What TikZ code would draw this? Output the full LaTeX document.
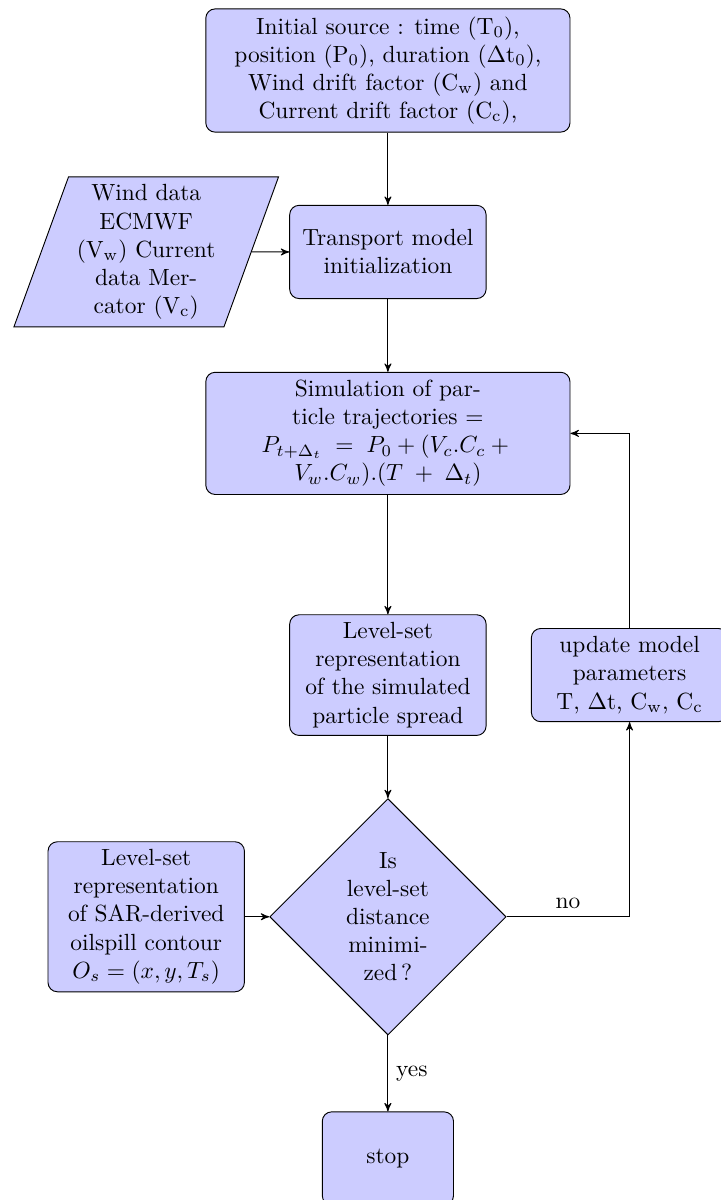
\documentclass[tikz,border=0pt]{standalone}
\usetikzlibrary{arrows,shapes.geometric}

\begin{document}
\begin{tikzpicture}[>=stealth',auto,node distance=3.63cm,
        block node/.style={rectangle,draw,fill=blue!20,rounded corners,align=flush center,
            text width=2.7cm,minimum width=2.95cm,minimum height=1.4cm},
        wide node/.style={block node,text width=5.2cm,minimum width=5.47cm},
        data node/.style={trapezium,trapezium left angle=70,trapezium right angle=110,
            draw,fill=blue!20,align=flush center,text width=2.1cm},
        decision node/.style={diamond,draw,fill=blue!20,align=flush center,text width=4.5em,
            inner sep=0pt,minimum width=3.55cm,minimum height=3.55cm}]
        \useasboundingbox (-5.826,1.059) rectangle (4.988,-16.964);
        \node[wide node] (1) {Initial source : time (T$_0$),\\ position (P$_0$), duration ($\Delta$t$_0$),\\ Wind drift factor (C$_\mathrm{w}$) and\\ Current drift factor (C$_\mathrm{c}$),};
        \node[block node] (2) [node distance=2.725cm,below of=1] {Transport model\\ initialization};
        \node[data node] (0) [left of=2] {Wind data\\ ECMWF\\ (V$_\mathrm{w}$) Current\\ data Mer-\\cator (V$_\mathrm{c}$)};
        \node[wide node] (3) [node distance=2.725cm,below of=2] {Simulation of par-\\ticle trajectories =\\ $P_{t+\Delta_t}\;=\;P_0 + (V_c.C_c + {}$\\ $V_w.C_w).(T\;+\;\Delta_t)$};
        \node[block node] (4) [below of=3] {Level-set\\ representation\\ of the simulated\\ particle spread};
        \node[block node] (5) [right of=4] {update model\\ parameters\\ T, $\Delta$t, C$_\mathrm{w}$, C$_\mathrm{c}$};
        \node[decision node] (6) [below of=4] {Is\\ level-set\\ distance\\ minimi-\\zed\,?};
        \node[block node] (7) [left of=6] {Level-set\\ representation\\ of SAR-derived\\ oilspill contour\\ $O_s=(x,y,T_s)$};
        \node[block node, text width=1.5cm, minimum width=1.97cm] (8) [below of=6] {stop};
        \path[->]
        (1) edge (2)
        (0) edge (2)
        (2) edge (3)
        (3) edge (4)
        (4) edge (6)
        (7) edge (6)
        (6) edge node [right] {yes} (8)
        ;
        \draw[->] (6) -| node [above, pos=0.25] {no} (5);
        \draw[->] (5) |- (3);
\end{tikzpicture}
\end{document}
